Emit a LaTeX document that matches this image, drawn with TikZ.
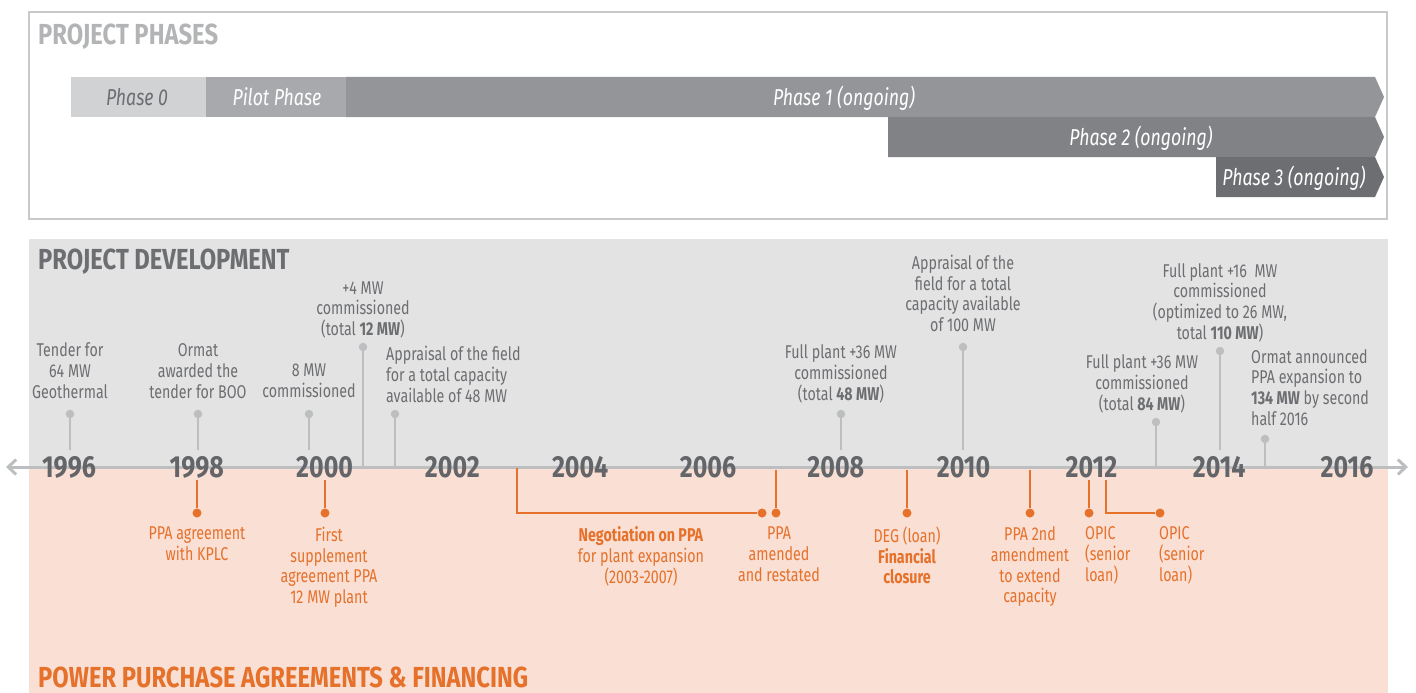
\documentclass[tikz,border=0pt]{standalone}
\usepackage{fontspec}
\setmainfont{Fira Sans}[FakeStretch=0.77]
\newfontfamily\widefam{Fira Sans}[FakeStretch=0.82]
\usepackage{tikz}
\usetikzlibrary{positioning}
\usetikzlibrary{arrows.meta}

\definecolor{frameg}{HTML}{C8C9CB}
\definecolor{titleg}{HTML}{B3B4B6}
\definecolor{phzero}{HTML}{D1D2D4}
\definecolor{phpilot}{HTML}{A7A9AC}
\definecolor{phone}{HTML}{939598}
\definecolor{phtwo}{HTML}{808285}
\definecolor{phthree}{HTML}{6D6E71}
\definecolor{devbg}{HTML}{E3E3E3}
\definecolor{ppabg}{HTML}{F9DFD4}
\definecolor{axisg}{HTML}{BCBEC0}
\definecolor{textg}{HTML}{6D6E71}
\definecolor{yearg}{HTML}{646568}
\definecolor{ppaor}{HTML}{E5712B}

\newcommand\evfont{\fontsize{18.5}{20.7}\selectfont}
\newcommand\yrfont{\widefam\fontsize{30.5}{32}\selectfont\bfseries}
\newcommand\hdfont{\widefam\fontsize{29}{30}\selectfont\bfseries}
\newcommand\phfont{\fontsize{23}{25}\selectfont\itshape}

\begin{document}
\begin{tikzpicture}[x=1pt, y=-1pt,
  every node/.style = {inner sep=0pt, align=center},
  phasetext/.style = {font=\phfont, text=white, anchor=base},
  year/.style = {font=\yrfont, text=yearg, anchor=base},
  gtext/.style = {font=\evfont, text=textg},
  otext/.style = {font=\evfont, text=ppaor},
  gdot/.style = {circle, fill=axisg, minimum size=8.5pt},
  odot/.style = {circle, fill=ppaor, minimum size=9pt},
  gline/.style = {draw=axisg, line width=2.6pt},
  oline/.style = {draw=ppaor, line width=2.6pt},
  heading/.style = {font=\hdfont, anchor=west}]
  \useasboundingbox (0,0) rectangle (1416,693);
  \draw[frameg, line width=2.5pt] (29,12) rectangle (1387,219);
  \fill[devbg] (29,239) rectangle (1388,467);
  \fill[ppabg] (29,467) rectangle (1388,693);
  \node[heading, text=titleg] (phases) at (38,37) {PROJECT PHASES};
  \node[heading, text=textg] (dev) at (38,262) {PROJECT DEVELOPMENT};
  \node[heading, text=ppaor] (ppa) at (38,677) {POWER PURCHASE AGREEMENTS \& FINANCING};

  \fill[phzero] (71,77) rectangle (206,117);
  \fill[phpilot] (206,77) rectangle (346,117);
  \fill[phone] (346,77) -- (1375,77) -- (1384,97) -- (1375,117) -- (346,117) -- cycle;
  \fill[phtwo] (888,117) -- (1375,117) -- (1384,137) -- (1375,157) -- (888,157) -- cycle;
  \fill[phthree] (1216,157) -- (1375,157) -- (1384,177) -- (1375,197) -- (1216,197) -- cycle;
  \node[phasetext, text=textg] (p0) at (137,105.5) {Phase 0};
  \node[phasetext] (pp) at (277,105.5) {Pilot Phase};
  \node[phasetext] (p1) at (844,105.5) {Phase 1 (ongoing)};
  \node[phasetext] (p2) at (1141,145.5) {Phase 2 (ongoing)};
  \node[phasetext] (p3) at (1294,185.5) {Phase 3 (ongoing)};

  \coordinate (axl) at (6,467);
  \coordinate (axr) at (1408,467);
  \draw[gline, line width=3pt, {Straight Barb[length=8pt,width=15pt]}-{Straight Barb[length=8pt,width=15pt]}] (axl) -- (axr);
  \foreach \yr in {1996,1998,...,2016}
    \node[year] (y\yr) at ({69+63.9*(\yr-1996)},477) {\yr};

  \foreach \n/\x/\y/\e in {96/70/414/450, 98/198/414/450, 00/309/414/450,
      01/363/347/467, 02/395/414/467, 08/841/414/450, 10/963/347/450,
      13/1156/422/467, 14/1220/351/450, 15/1265/439/467} {
    \node[gdot] (g\n) at (\x,\y) {};
    \coordinate (g\n e) at (\x,\e);
    \draw[gline] (g\n) -- (g\n e);
  }
  \node[gtext, above=11pt of g96] (t96) {Tender for\\64 MW\\Geothermal};
  \node[gtext, above=11pt of g98] (t98) {Ormat\\awarded the\\tender for BOO};
  \node[gtext, above=11.5pt of g00] (t00) {8 MW\\commissioned};
  \node[gtext, above=4pt of g01] (t01) {+4 MW\\commissioned\\(total \textbf{12 MW})};
  \node[gtext, above=7pt of g02, anchor=south west, xshift=-9pt, align=left] (t02)
    {Appraisal of the field\\for a total capacity\\available of 48 MW};
  \node[gtext, above=6.5pt of g08] (t08) {Full plant +36 MW\\commissioned\\(total \textbf{48 MW})};
  \node[gtext, above=10.5pt of g10] (t10) {Appraisal of the\\field for a total\\capacity available\\of 100 MW};
  \node[gtext, above=4.5pt of g13, xshift=-14pt] (t13) {Full plant +36 MW\\commissioned\\(total \textbf{84 MW})};
  \node[gtext, above=4.5pt of g14] (t14) {Full plant +16~ MW\\commissioned\\(optimized to 26 MW,\\total \textbf{110 MW})};
  \node[gtext, above=9pt of g15, anchor=south west, xshift=-14pt, align=left] (t15)
    {Ormat announced\\PPA expansion to\\\textbf{134 MW} by second\\half 2016};

  \foreach \n/\x/\s in {98/197/480, 00/325/480, 07/776/470, 09/907/470, 11/1030/470, 12/1089/480} {
    \coordinate (o\n s) at (\x,\s);
    \node[odot] (o\n) at (\x,513) {};
    \draw[oline] (o\n s) -- (o\n);
  }
  \coordinate (o03s) at (517,468);
  \node[odot] (o03) at (762,513) {};
  \draw[oline] (o03s) |- (o03);
  \coordinate (o13s) at (1106,480);
  \node[odot] (o13) at (1160,513) {};
  \draw[oline] (o13s) |- (o13);

  \node[otext, below=9pt of o98] (s98) {PPA agreement\\with KPLC};
  \node[otext, below=9pt of o00, xshift=4pt] (s00) {First\\supplement\\agreement PPA\\12 MW plant};
  \node[otext, below=9pt of o03, xshift=-121pt] (s03) {\textbf{Negotiation on PPA}\\for plant expansion\\(2003-2007)};
  \node[otext, below=9pt of o07, xshift=3pt] (s07) {PPA\\amended\\and restated};
  \node[otext, below=9pt of o09] (s09) {DEG (loan)\\\textbf{Financial}\\\textbf{closure}};
  \node[otext, below=9pt of o11] (s11) {PPA 2nd\\amendment\\to extend\\capacity};
  \node[otext, below=9pt of o12, anchor=north west, xshift=-4pt, align=left] (s12) {OPIC\\(senior\\loan)};
  \node[otext, below=9pt of o13, anchor=north west, xshift=-1pt, align=left] (s13) {OPIC\\(senior\\loan)};
\end{tikzpicture}
\end{document}
